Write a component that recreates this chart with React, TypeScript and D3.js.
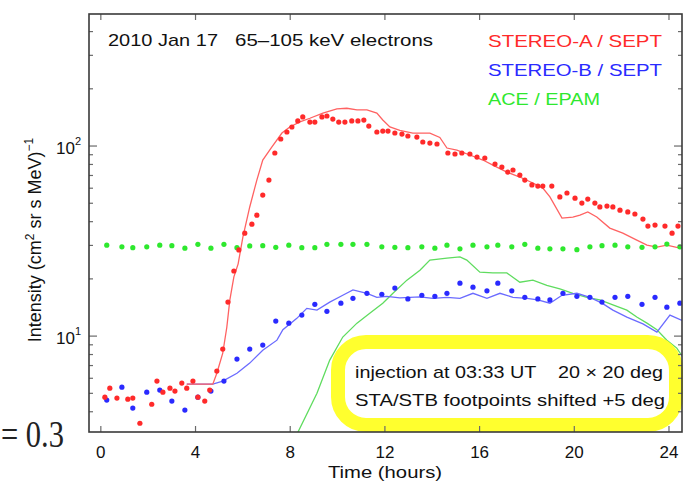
import * as d3 from 'd3';

// STEREO-A / SEPT (red dots)
const staHours = [0.17, 0.38, 0.68, 1.14, 1.35, 1.65, 2.15, 2.37, 2.62, 2.92, 3.13, 3.42, 3.63, 3.89, 4.10, 4.39, 4.60, 4.90, 5.15, 5.37, 5.62, 5.83, 6.08, 6.38, 6.59, 6.84, 7.10, 7.35, 7.60, 7.86, 8.07, 8.32, 8.53, 8.83, 9.04, 9.34, 9.55, 9.80, 10.05, 10.31, 10.60, 10.86, 11.11, 11.32, 11.66, 11.91, 12.13, 12.42, 12.72, 12.97, 13.35, 13.60, 13.90, 14.20, 14.66, 14.96, 15.25, 15.59, 15.89, 16.22, 16.65, 16.94, 17.19, 17.41, 17.70, 17.91, 18.21, 18.46, 18.67, 19.05, 19.39, 19.69, 20.03, 20.32, 20.57, 20.87, 21.08, 21.38, 21.63, 21.93, 22.26, 22.56, 22.90, 23.11, 23.41, 23.83, 24.13, 24.38];
const staIntensity = [4.77, 5.32, 4.72, 4.66, 4.72, 3.48, 4.38, 5.80, 5.07, 5.32, 5.14, 5.66, 5.32, 5.80, 4.77, 4.55, 5.20, 6.55, 8.55, 15.1, 22.0, 28.4, 34.8, 38.8, 43.3, 55.2, 66.2, 91.9, 108.9, 118.5, 125.9, 135.5, 142.2, 133.7, 133.7, 142.2, 143.9, 138.7, 133.7, 133.7, 135.5, 135.5, 137.0, 127.4, 118.5, 119.9, 119.9, 117.1, 115.6, 112.9, 111.5, 105.0, 103.7, 102.5, 91.9, 90.8, 91.9, 90.8, 87.5, 86.5, 80.4, 77.5, 72.9, 74.8, 70.3, 66.2, 62.4, 61.6, 61.6, 61.6, 54.0, 56.6, 53.2, 50.1, 52.6, 50.1, 47.8, 48.3, 47.8, 46.0, 45.0, 43.9, 41.3, 37.9, 38.4, 37.9, 34.8, 37.9];

// STEREO-B / SEPT and ACE / EPAM share the same sample times
const sampleHours = [0.25, 0.89, 1.35, 1.94, 2.49, 3.00, 3.55, 4.10, 4.65, 5.20, 5.75, 6.29, 6.84, 7.39, 7.94, 8.49, 9.04, 9.55, 10.14, 10.65, 11.24, 11.87, 12.42, 12.97, 13.56, 14.11, 14.62, 15.17, 15.72, 16.31, 16.77, 17.36, 17.91, 18.46, 18.97, 19.52, 20.11, 20.66, 21.17, 21.72, 22.26, 22.86, 23.41, 23.91, 24.46];
const stbIntensity = [4.61, 5.39, 4.18, 5.07, 5.20, 4.55, 4.08, 4.77, 5.14, 5.80, 7.57, 8.55, 8.97, 12.0, 11.7, 12.9, 14.7, 13.5, 14.9, 15.8, 16.8, 16.6, 17.9, 15.7, 16.4, 16.2, 16.8, 19.0, 18.1, 17.3, 19.0, 17.3, 16.0, 15.7, 15.5, 16.8, 16.2, 16.0, 15.1, 16.0, 16.2, 14.7, 16.0, 14.2, 14.9];
const aceIntensity = [30.1, 29.5, 29.2, 29.5, 30.1, 29.9, 29.0, 30.4, 29.0, 30.4, 29.2, 29.8, 29.9, 29.3, 30.1, 29.2, 29.2, 30.4, 30.4, 30.4, 30.4, 29.5, 29.3, 29.2, 29.5, 29.0, 30.1, 28.8, 30.1, 29.5, 30.1, 29.5, 30.4, 29.0, 28.8, 28.8, 28.5, 29.5, 29.9, 30.1, 29.5, 29.3, 29.5, 30.5, 29.5];

// model curves
const staModelHours = [3.63, 4.73, 4.90, 5.15, 5.32, 5.45, 5.62, 5.80, 6.00, 6.29, 6.59, 6.84, 7.22, 7.65, 7.98, 8.41, 8.83, 9.38, 9.97, 10.39, 10.82, 11.24, 11.66, 11.91, 12.21, 12.63, 13.18, 13.90, 14.32, 14.62, 15.04, 15.59, 16.14, 16.56, 17.15, 17.70, 18.25, 18.67, 18.97, 19.48, 19.94, 20.24, 20.57, 20.95, 21.50, 22.05, 22.64, 23.07, 23.49, 23.91, 24.46];
const staModel = [5.59, 5.59, 6.38, 8.14, 11.1, 15.5, 20.5, 24.0, 33.2, 47.8, 66.2, 84.4, 98.8, 117, 126, 134, 140, 149, 157, 158, 155, 155, 149, 137, 126, 121, 117, 117, 111, 97.6, 95.2, 89.7, 84.4, 79.4, 72.9, 68.7, 63.9, 60.1, 54.0, 41.8, 42.3, 43.3, 45.0, 42.3, 37.0, 34.8, 32.0, 30.1, 29.4, 30.1, 29.0];
const stbModelHours = [3.63, 4.73, 5.15, 5.75, 6.29, 6.84, 7.44, 7.69, 8.28, 8.70, 9.13, 9.67, 10.22, 10.65, 11.24, 11.66, 12.08, 12.63, 13.48, 14.03, 14.62, 15.17, 15.72, 16.31, 16.86, 17.41, 18.00, 18.46, 18.97, 19.48, 20.11, 20.66, 21.17, 21.63, 22.22, 22.90, 23.49, 24.04, 24.55];
const stbModel = [5.59, 5.59, 5.80, 6.38, 7.21, 8.43, 9.52, 10.8, 12.4, 14.0, 13.7, 15.1, 16.4, 17.5, 16.8, 16.0, 16.2, 15.9, 16.1, 15.8, 16.0, 15.8, 16.8, 15.8, 16.8, 16.0, 15.8, 15.5, 14.9, 16.4, 16.8, 16.0, 14.9, 13.7, 12.6, 11.6, 10.5, 12.9, 12.1];
const aceModelHours = [8.2, 9.13, 9.67, 10.22, 10.82, 11.36, 11.91, 12.34, 12.93, 13.48, 13.90, 14.62, 15.17, 15.46, 16.01, 16.56, 17.15, 17.70, 18.25, 18.84, 19.39, 19.94, 20.53, 21.08, 21.63, 22.22, 22.64, 23.07, 23.49, 23.91, 24.33, 24.67];
const aceModel = [2.9, 5.01, 7.48, 9.89, 11.7, 13.2, 14.9, 16.8, 19.7, 22.2, 25.1, 25.7, 26.1, 25.1, 21.7, 21.5, 21.5, 19.2, 19.7, 18.5, 17.7, 16.8, 16.0, 15.5, 14.6, 13.7, 12.6, 11.7, 10.8, 9.52, 8.65, 7.48];

const xTicks = [0, 4, 8, 12, 16, 20, 24];
const legendLabels = ['STEREO-A / SEPT', 'STEREO-B / SEPT', 'ACE / EPAM'];
const legendColors = ['#ff2a2a', '#2a2aff', '#2ee82e'];

const W = 689;
const H = 484;
const left = 89, right = 682, top = 14, bottom = 432;
const font = 'Liberation Sans, Arial, Helvetica, sans-serif';
const serif = 'Liberation Serif, Times New Roman, serif';

export default function App() {
    const x = d3.scaleLinear().domain([-0.5, 24.55]).range([left, right]);
    const y = d3.scaleLog().domain([3.13, 495]).range([bottom, top]);

    const line = d3.line<[number, number]>()
        .x(d => x(d[0]))
        .y(d => y(d[1]));

    const zip = (t: number[], v: number[]) => t.map((h, i) => [h, v[i]] as [number, number]);

    const yTicks = y.ticks();
    const isMajor = (v: number) => Math.abs(Math.log10(v) - Math.round(Math.log10(v))) < 1e-6;

    const frame = '#3a3a3a';
    const tickColor = '#6a6a6a';

    return (
        <svg width={W} height={H} style={{ position: 'absolute', left: 0, top: 0, background: '#fff' }}>
            <defs>
                <clipPath id="plot">
                    <rect x={left} y={top} width={right - left} height={bottom - top} />
                </clipPath>
            </defs>

            <g clipPath="url(#plot)">
                <path d={line(zip(aceModelHours, aceModel)) || ''} fill="none" stroke="#5fdc5f" strokeWidth={1.3} />
                <path d={line(zip(stbModelHours, stbModel)) || ''} fill="none" stroke="#6b6bff" strokeWidth={1.3} />
                <path d={line(zip(staModelHours, staModel)) || ''} fill="none" stroke="#ff6262" strokeWidth={1.3} />

                {sampleHours.map((h, i) => (
                    <circle key={'a' + i} cx={x(h)} cy={y(aceIntensity[i])} r={2.6} fill={legendColors[2]} />
                ))}
                {sampleHours.map((h, i) => (
                    <circle key={'b' + i} cx={x(h)} cy={y(stbIntensity[i])} r={2.6} fill={legendColors[1]} />
                ))}
                {staHours.map((h, i) => (
                    <circle key={'r' + i} cx={x(h)} cy={y(staIntensity[i])} r={2.6} fill={legendColors[0]} />
                ))}
            </g>

            {/* annotation box */}
            <rect x={338} y={342} width={338} height={83} rx={28} ry={28} fill="#fff" stroke="#ffff2e" strokeWidth={14} />
            <text x={355} y={378} fontFamily={font} fontSize={17} fill="#111" style={{ whiteSpace: 'pre' }}
                textLength={308} lengthAdjust="spacingAndGlyphs">
                {'injection at 03:33 UT    20 × 20 deg'}
            </text>
            <text x={355} y={406} fontFamily={font} fontSize={17} fill="#111" textLength={310} lengthAdjust="spacingAndGlyphs">
                STA/STB footpoints shifted +5 deg
            </text>

            {/* ticks */}
            {xTicks.map(t => (
                <g key={'xt' + t}>
                    <line x1={x(t)} x2={x(t)} y1={bottom} y2={bottom - 6} stroke={tickColor} strokeWidth={1.2} />
                    <line x1={x(t)} x2={x(t)} y1={top} y2={top + 6} stroke={tickColor} strokeWidth={1.2} />
                    <text x={x(t)} y={458} textAnchor="middle" fontFamily={font} fontSize={17} fill="#111">{t}</text>
                </g>
            ))}
            {yTicks.map((v, i) => {
                const len = isMajor(v) ? 8 : 4;
                return (
                    <g key={'yt' + i}>
                        <line x1={left} x2={left + len} y1={y(v)} y2={y(v)} stroke={tickColor} strokeWidth={1.2} />
                        <line x1={right} x2={right - len} y1={y(v)} y2={y(v)} stroke={tickColor} strokeWidth={1.2} />
                    </g>
                );
            })}
            {yTicks.filter(isMajor).map(v => (
                <text key={'yl' + v} x={81} y={y(v) + 8} textAnchor="end" fontFamily={font} fontSize={17} fill="#111">
                    10<tspan dy={-9} fontSize={11}>{Math.round(Math.log10(v))}</tspan>
                </text>
            ))}

            {/* frame */}
            <rect x={left} y={top} width={right - left} height={bottom - top} fill="none" stroke={frame} strokeWidth={1.6} />

            {/* title and legend */}
            <text x={108} y={46} fontFamily={font} fontSize={17} fill="#111" textLength={110} lengthAdjust="spacingAndGlyphs">2010 Jan 17</text>
            <text x={235} y={46} fontFamily={font} fontSize={17} fill="#111" textLength={198} lengthAdjust="spacingAndGlyphs">65–105 keV electrons</text>
            {legendLabels.map((l, i) => (
                <text key={l} x={488} y={47 + i * 29} fontFamily={font} fontSize={17} fill={legendColors[i]}
                    textLength={i < 2 ? 174 : 112} lengthAdjust="spacingAndGlyphs">{l}</text>
            ))}

            {/* axis titles */}
            <text x={385} y={478} textAnchor="middle" fontFamily={font} fontSize={17} fill="#111" textLength={114} lengthAdjust="spacingAndGlyphs">Time (hours)</text>
            <text transform="translate(41,240) rotate(-90)" textAnchor="middle" fontFamily={font} fontSize={18} fill="#111">
                Intensity (cm<tspan dy={-7} fontSize={12}>2</tspan><tspan dy={7}> sr s MeV)</tspan><tspan dy={-8} fontSize={12}>−1</tspan>
            </text>

            {/* cropped fragment from the page */}
            <text x={1} y={447} fontFamily={serif} fontSize={37} fill="#222"
                textLength={63} lengthAdjust="spacingAndGlyphs">= 0.3</text>
        </svg>
    );
}
